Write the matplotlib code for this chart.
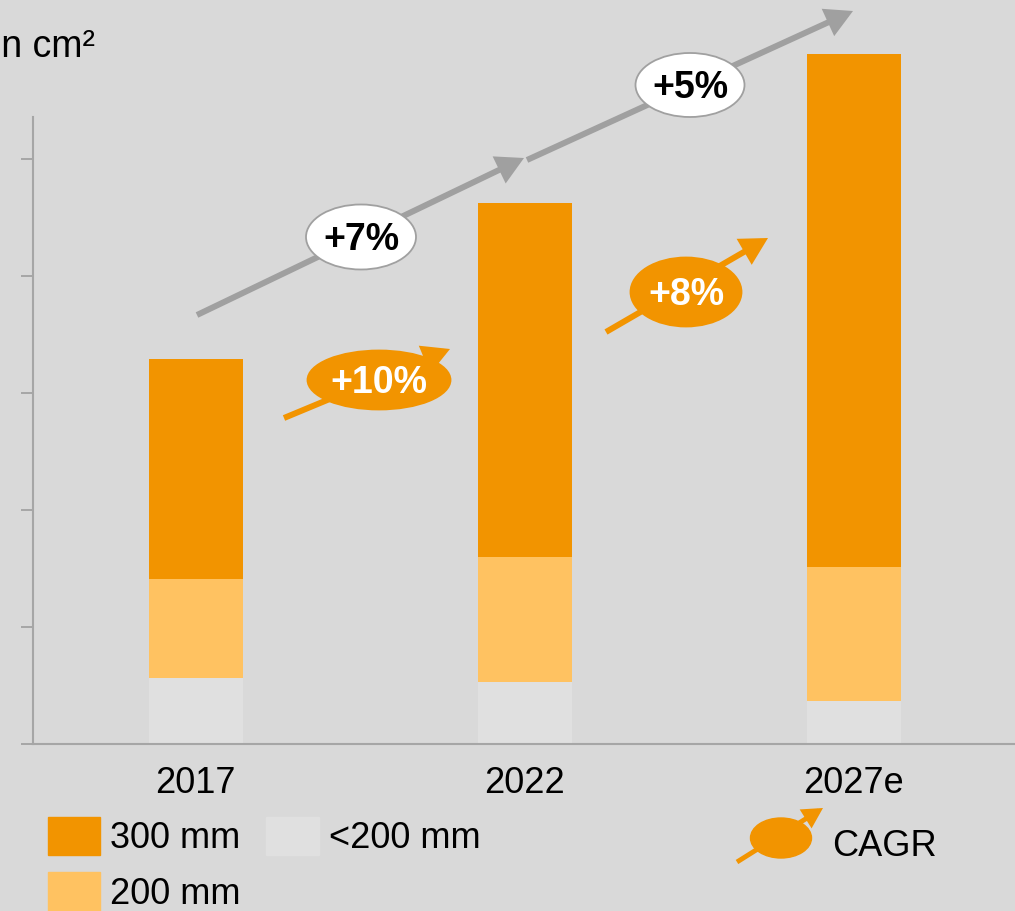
# import libraries
import numpy as np
import matplotlib.pyplot as plt
from matplotlib.patches import Ellipse, Patch

# data (tick step = 1 unit)
years = ['2017', '2022', '2027e']
small = [0.56, 0.53, 0.37]      # <200 mm
mm200 = [0.85, 1.07, 1.14]      # 200 mm
mm300 = [1.88, 3.02, 4.39]      # 300 mm
cagr_total = ['+7%', '+5%']
cagr_300 = ['+10%', '+8%']

c300 = '#F29400'
c200 = '#FFC261'
csmall = '#E0E0E0'
bg = '#D9D9D9'
grey = '#A0A0A0'

plt.rcParams['font.family'] = ['Liberation Sans', 'DejaVu Sans']

W, H = 1015, 911
fig = plt.figure(figsize=(W / 100, H / 100), dpi=100, facecolor=bg)
# axes reach the top of the figure so the tallest bar is not cut
ax = fig.add_axes([33 / W, 1 - 744 / H, (W - 33) / W, 744 / H])
ax.set_facecolor(bg)

# stacked bars
x = np.arange(len(years))
bw = 0.286
ax.bar(x, small, bw, color=csmall)
ax.bar(x, mm200, bw, bottom=small, color=c200)
ax.bar(x, mm300, bw, bottom=np.add(small, mm200), color=c300)

ax.set_xlim(-0.495, 2.49)
ax.set_ylim(0, 744 / 117)
ax.set_yticks(range(6))
ax.set_yticklabels([])
ax.set_xticks(x)
ax.set_xticklabels(years, fontsize=26)
ax.tick_params(axis='x', length=0, pad=16)
ax.tick_params(axis='y', length=9, width=1.4, color='#A6A6A6')
for s in ['top', 'right']:
    ax.spines[s].set_visible(False)
for s in ['left', 'bottom']:
    ax.spines[s].set_color('#A6A6A6')
    ax.spines[s].set_linewidth(1.5)
ax.spines['left'].set_bounds(0, 5.36)

# unit label, cut at the left edge like the original
fig.text(95 / W, 1 - 47 / H, 'in billion cm\u00b2', fontsize=27, ha='right', va='center')


# helper: pixel position -> figure fraction
def fp(px, py):
    return (px / W, 1 - py / H)


def arrow(p0, p1, color, lw, ms):
    ax.annotate('', xy=fp(*p1), xytext=fp(*p0), xycoords='figure fraction',
                textcoords='figure fraction', annotation_clip=False,
                arrowprops=dict(arrowstyle='-|>,head_length=0.55,head_width=0.3',
                                color=color, lw=lw, mutation_scale=ms,
                                shrinkA=0, shrinkB=0, joinstyle='miter',
                                capstyle='butt'))


def bubble(c, w, h, txt, face, edge, tcol):
    e = Ellipse(fp(*c), w / W, h / H, transform=fig.transFigure,
                facecolor=face, edgecolor=edge, lw=1.3, zorder=5)
    fig.patches.append(e)
    fig.text(*fp(c[0], c[1] + 3), txt, fontsize=27, fontweight='bold', color=tcol,
             ha='center', va='center', zorder=6)


# total CAGR (grey)
arrow((197, 315), (524, 158), grey, 4.3, 24)
arrow((527, 160), (853, 11), grey, 4.3, 24)
bubble((361, 237), 110, 65, cagr_total[0], 'white', grey, 'black')
bubble((690, 85), 109, 64, cagr_total[1], 'white', grey, 'black')

# 300 mm CAGR (orange)
arrow((284, 418), (450, 349), c300, 4.3, 24)
arrow((606, 332), (768, 238), c300, 4.3, 24)
bubble((379, 380), 143, 59, cagr_300[0], c300, c300, 'white')
bubble((686, 292), 111, 69, cagr_300[1], c300, c300, 'white')

# legend
handles = [Patch(color=c300, label='300 mm'), Patch(color=c200, label='200 mm'),
           Patch(color=csmall, label='<200 mm')]
fig.legend(handles=handles, ncol=2, loc='upper left', bbox_to_anchor=fp(48, 817),
           frameon=False, fontsize=26, handlelength=1.45, handleheight=1.25,
           handletextpad=0.28, columnspacing=0.7, labelspacing=0.45, borderpad=0,
           borderaxespad=0)

# CAGR legend symbol
arrow((737, 862), (823, 808), c300, 3.5, 17)
fig.patches.append(Ellipse(fp(781, 838), 61 / W, 40 / H, transform=fig.transFigure,
                           facecolor=c300, edgecolor=c300, zorder=5))
fig.text(*fp(832, 847), 'CAGR', fontsize=26, va='center', ha='left')

fig.savefig('out.png', dpi=100, facecolor=bg)
